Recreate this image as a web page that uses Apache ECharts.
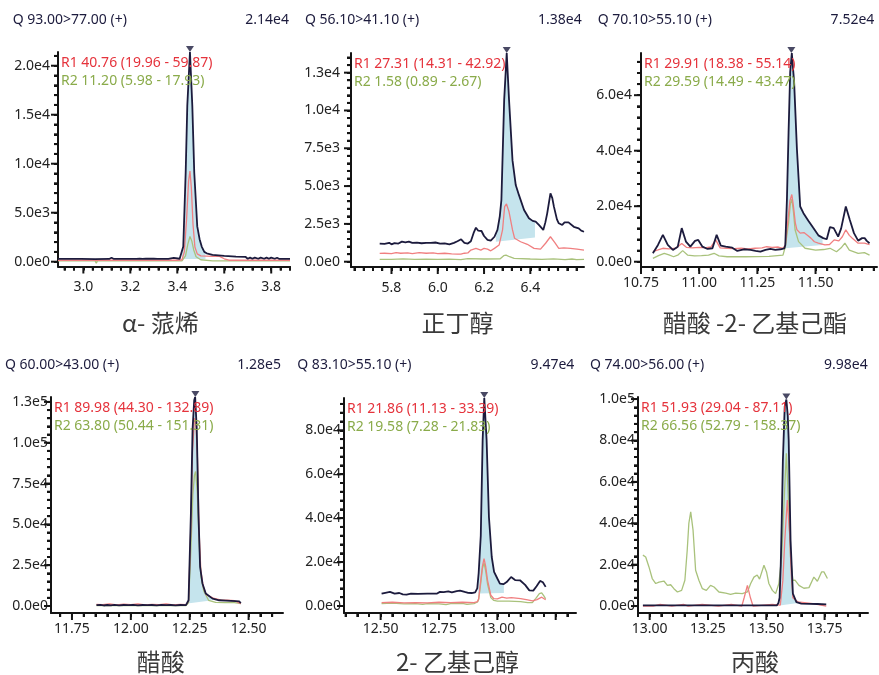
<!DOCTYPE html>
<html><head><meta charset="utf-8">
<script src="https://cdn.jsdelivr.net/npm/echarts@6/dist/echarts.min.js"></script>
<style>html,body{margin:0;padding:0;background:#fff}#c{width:879px;height:675px}</style>
</head><body><div id="c"></div>
<script>
// ---------------- DATA ----------------
const titles = ['Q 93.00>77.00 (+)', 'Q 56.10>41.10 (+)', 'Q 70.10>55.10 (+)', 'Q 60.00>43.00 (+)', 'Q 83.10>55.10 (+)', 'Q 74.00>56.00 (+)'];
const maxVals = [2.14e4, 1.38e4, 7.52e4, 1.28e5, 9.47e4, 9.98e4];
const maxLabels = ['2.14e4', '1.38e4', '7.52e4', '1.28e5', '9.47e4', '9.98e4'];
const yMaxes = [21400, 13800, 75200, 128000, 94700, 101000];
const names = ['α- 蒎烯', '正丁醇', '醋酸 -2- 乙基己酯', '醋酸', '2- 乙基己醇', '丙酸'];
const r1Texts = ['R1 40.76 (19.96 - 59.87)', 'R1 27.31 (14.31 - 42.92)', 'R1 29.91 (18.38 - 55.14)', 'R1 89.98 (44.30 - 132.89)', 'R1 21.86 (11.13 - 33.39)', 'R1 51.93 (29.04 - 87.11)'];
const r2Texts = ['R2 11.20 (5.98 - 17.93)', 'R2 1.58 (0.89 - 2.67)', 'R2 29.59 (14.49 - 43.47)', 'R2 63.80 (50.44 - 151.31)', 'R2 19.58 (7.28 - 21.83)', 'R2 66.56 (52.79 - 158.37)'];
const peakTimes = [3.454, 6.298, 11.396, 12.274, 12.944, 13.586];
const xRanges = [[2.892, 3.88], [5.625, 6.632], [10.75, 11.764], [11.661, 12.646], [12.343, 13.337], [12.95, 13.936]];
const yMins = [-490, -350, -1900, -4300, -3200, -3350];
const xTickLabels = [[3.0, 3.2, 3.4, 3.6, 3.8], [5.8, 6.0, 6.2, 6.4], [10.75, 11.00, 11.25, 11.50], [11.75, 12.00, 12.25, 12.50], [12.50, 12.75, 13.00], [13.00, 13.25, 13.50, 13.75]];
const xMajorTicks = [[3.0, 3.2, 3.4, 3.6, 3.8], [5.8, 6.0, 6.2, 6.4], [10.75, 11.00, 11.25, 11.50], [11.75, 12.00, 12.25, 12.50], [12.50, 12.75, 13.00, 13.25], [13.00, 13.25, 13.50, 13.75]];
const xMinorSteps = [0.04, 0.04, 0.05, 0.05, 0.05, 0.05];
const yTickLabels = [[0, 5000, 10000, 15000, 20000], [0, 2500, 5000, 7500, 10000, 12500], [0, 20000, 40000, 60000], [0, 25000, 50000, 75000, 100000, 125000], [0, 20000, 40000, 60000, 80000], [0, 20000, 40000, 60000, 80000, 100000]];
const yMinorSteps = [1000, 500, 4000, 5000, 4000, 4000];
// integration window: [start time, baseline at start, end time, baseline at end]
const fillWindows = [[3.42, 280, 3.52, 280], [6.251, 1320, 6.42, 1600], [11.37, 4850, 11.53, 6000], [12.24, 1500, 12.347, 3500], [12.918, 5700, 13.028, 5900], [13.557, 300, 13.636, 1500]];

const p1Navy = [[2.892,280],[2.93,280],[2.975,280],[2.98,420],[2.99,280],[3.05,270],[3.11,280],[3.12,400],[3.13,280],[3.155,290],[3.16,410],[3.17,290],[3.225,280],[3.232,400],[3.24,300],[3.252,290],[3.258,410],[3.266,300],[3.275,300],[3.28,420],[3.288,300],[3.30,300],[3.305,410],[3.315,290],[3.362,290],[3.37,400],[3.385,400],[3.392,300],[3.41,300],[3.418,500],[3.4255,1540],[3.4357,9080],[3.4426,15900],[3.454,21400],[3.464,15900],[3.4723,9080],[3.485,3600],[3.495,2300],[3.504,1540],[3.515,1000],[3.525,860],[3.55,700],[3.60,600],[3.65,520],[3.69,500],[3.70,300],[3.71,420],[3.72,300],[3.73,420],[3.745,300],[3.755,420],[3.77,300],[3.78,420],[3.79,300],[3.80,420],[3.815,300],[3.825,400],[3.835,280],[3.88,280]];
const p1Red = [[2.892,150],[3.05,150],[3.055,60],[3.06,150],[3.40,150],[3.42,200],[3.43,1000],[3.44,4500],[3.448,8200],[3.454,9250],[3.46,7500],[3.467,3800],[3.475,1500],[3.485,800],[3.50,600],[3.55,550],[3.58,550],[3.60,300],[3.62,150],[3.78,150],[3.785,60],[3.79,150],[3.88,150]];
const p1Green = [[2.892,80],[3.05,80],[3.055,-150],[3.06,80],[3.42,80],[3.435,600],[3.445,1800],[3.454,2570],[3.462,2100],[3.47,1200],[3.48,500],[3.50,200],[3.55,80],[3.88,80]];

const p2Navy = [[5.749,1200],[5.77,1180],[5.79,1250],[5.80,1150],[5.813,1230],[5.83,1200],[5.845,1330],[5.86,1280],[5.875,1330],[5.89,1240],[5.91,1260],[5.93,1220],[5.95,1250],[5.97,1240],[5.99,1270],[6.01,1200],[6.03,1210],[6.05,1150],[6.07,1250],[6.085,1350],[6.101,1480],[6.115,1250],[6.13,1200],[6.143,1350],[6.155,1900],[6.165,2250],[6.175,2050],[6.182,2100],[6.189,2030],[6.20,1700],[6.215,1450],[6.229,1390],[6.245,1650],[6.258,2100],[6.268,3000],[6.275,4080],[6.287,10700],[6.298,13800],[6.308,10700],[6.323,6700],[6.337,5070],[6.351,4400],[6.373,3420],[6.394,2870],[6.41,2700],[6.423,2650],[6.437,2430],[6.456,2100],[6.465,2600],[6.473,3200],[6.487,4520],[6.495,4200],[6.502,3640],[6.515,2800],[6.523,2540],[6.538,2430],[6.548,2600],[6.556,2710],[6.565,2600],[6.573,2490],[6.588,2310],[6.609,2210],[6.62,2050],[6.632,1980]];
const p2Red = [[5.749,550],[5.77,560],[5.80,540],[5.82,600],[5.84,560],[5.87,580],[5.89,540],[5.92,600],[5.95,560],[5.98,580],[6.00,540],[6.03,560],[6.06,520],[6.085,500],[6.10,500],[6.115,560],[6.13,580],[6.143,770],[6.165,880],[6.186,770],[6.20,880],[6.215,830],[6.229,720],[6.245,880],[6.265,1100],[6.28,2100],[6.289,3640],[6.297,3820],[6.308,3300],[6.323,2100],[6.332,1550],[6.358,1320],[6.387,1150],[6.416,880],[6.444,830],[6.466,1220],[6.487,1650],[6.506,1260],[6.523,880],[6.545,910],[6.573,880],[6.602,830],[6.632,770]];
const p2Green = [[5.749,160],[5.80,150],[5.85,190],[5.90,150],[5.95,170],[6.00,150],[6.05,170],[6.10,140],[6.13,200],[6.20,180],[6.27,190],[6.285,400],[6.295,440],[6.31,330],[6.33,220],[6.40,180],[6.45,160],[6.50,190],[6.55,140],[6.58,180],[6.60,140],[6.632,160]];

const p3Navy = [[10.801,3040],[10.823,6050],[10.844,9670],[10.865,6050],[10.887,4240],[10.908,5430],[10.925,12100],[10.943,7250],[10.962,5430],[10.982,7500],[10.996,7860],[11.014,5430],[11.036,4600],[11.057,4850],[11.075,9670],[11.093,5800],[11.114,5430],[11.142,5070],[11.164,3880],[11.192,4490],[11.221,4240],[11.242,3880],[11.263,3620],[11.285,4240],[11.306,4600],[11.327,4240],[11.349,4490],[11.366,4850],[11.37,6000],[11.377,22400],[11.384,46500],[11.391,68300],[11.398,75200],[11.408,64600],[11.42,40500],[11.434,19900],[11.448,17500],[11.469,14800],[11.49,12200],[11.512,9500],[11.533,8500],[11.548,8100],[11.562,12500],[11.578,12100],[11.597,9060],[11.61,12000],[11.63,19900],[11.647,15100],[11.665,10300],[11.683,7600],[11.7,8500],[11.711,8500],[11.72,7500],[11.732,6670]];
const p3Red = [[10.801,3620],[10.823,4240],[10.844,4850],[10.87,4600],[10.9,4850],[10.925,6600],[10.945,5200],[10.97,5000],[11.0,5200],[11.03,5100],[11.05,5300],[11.071,7860],[11.09,5000],[11.12,4850],[11.15,4700],[11.18,4850],[11.21,4600],[11.24,4850],[11.27,5000],[11.29,5400],[11.313,5200],[11.34,5300],[11.36,4850],[11.37,6000],[11.38,14000],[11.39,22000],[11.398,24200],[11.405,20000],[11.413,14000],[11.42,11500],[11.434,10300],[11.45,10500],[11.465,9500],[11.48,8500],[11.495,7200],[11.512,6670],[11.54,6050],[11.56,6200],[11.58,7860],[11.6,7500],[11.615,9000],[11.63,11500],[11.645,9500],[11.658,8480],[11.683,6670],[11.71,6670],[11.732,6200]];
const p3Green = [[10.801,1200],[10.825,2200],[10.85,3040],[10.87,2500],[10.89,1800],[10.91,2500],[10.929,4000],[10.95,2400],[10.98,2100],[11.01,2200],[11.04,2400],[11.064,3040],[11.085,2100],[11.12,1800],[11.2,1800],[11.3,1900],[11.36,2400],[11.37,5400],[11.384,14000],[11.392,21000],[11.398,22500],[11.405,18000],[11.412,11500],[11.427,7250],[11.455,4850],[11.5,4200],[11.535,4400],[11.562,4850],[11.59,3600],[11.61,5000],[11.626,6670],[11.645,4200],[11.683,3000],[11.71,3300],[11.732,2400]];

const p4Navy = [[11.854,500],[11.87,700],[11.885,300],[11.90,600],[11.915,400],[11.93,700],[11.95,400],[11.97,600],[11.99,500],[12.01,700],[12.03,400],[12.05,600],[12.07,500],[12.09,600],[12.11,400],[12.13,700],[12.15,500],[12.17,600],[12.19,400],[12.21,600],[12.234,500],[12.245,3500],[12.255,56800],[12.262,108000],[12.269,126000],[12.273,128000],[12.28,108000],[12.287,56800],[12.294,24000],[12.304,13800],[12.318,7600],[12.347,4500],[12.375,3500],[12.403,3300],[12.446,3000],[12.46,2800],[12.467,1800]];
const p4Red = [[11.854,1000],[11.88,800],[11.91,1200],[11.94,700],[11.97,1100],[12.0,800],[12.03,1200],[12.06,700],[12.09,1000],[12.12,800],[12.15,1200],[12.18,700],[12.21,1000],[12.234,800],[12.245,3000],[12.255,50000],[12.262,95000],[12.27,115000],[12.276,112000],[12.283,90000],[12.29,45000],[12.297,22000],[12.307,12000],[12.32,7000],[12.35,4800],[12.38,3800],[12.41,3500],[12.44,3200],[12.467,1500]];
const p4Green = [[11.854,300],[11.9,200],[11.95,400],[12.0,200],[12.05,300],[12.1,200],[12.15,400],[12.2,300],[12.234,300],[12.245,2000],[12.255,35000],[12.263,68000],[12.27,80000],[12.275,82400],[12.282,70000],[12.29,38000],[12.298,18000],[12.31,9000],[12.33,3500],[12.36,2200],[12.40,2000],[12.44,2000],[12.467,1500]];

const p5Navy = [[12.504,5600],[12.52,6000],[12.54,6400],[12.56,5600],[12.58,5900],[12.595,5300],[12.611,5200],[12.63,5600],[12.66,5500],[12.70,5600],[12.74,5600],[12.754,6400],[12.77,6300],[12.79,6600],[12.805,6200],[12.826,6800],[12.84,7000],[12.86,6400],[12.875,6000],[12.89,5900],[12.905,6200],[12.914,8000],[12.92,15000],[12.929,32000],[12.937,75500],[12.944,94700],[12.954,75500],[12.964,40500],[12.976,22300],[12.986,15500],[13.0,12500],[13.011,10200],[13.026,9900],[13.04,10900],[13.059,13200],[13.076,11800],[13.097,11700],[13.119,9600],[13.137,7100],[13.154,7000],[13.168,9000],[13.183,11400],[13.195,10800],[13.207,8700]];
const p5Red = [[12.504,1500],[12.55,1700],[12.6,1400],[12.65,1500],[12.70,1400],[12.75,1700],[12.8,1500],[12.85,1700],[12.9,1500],[12.915,2000],[12.92,3300],[12.929,11700],[12.936,18000],[12.943,21600],[12.95,18000],[12.958,11700],[12.972,4900],[12.985,3300],[13.0,3200],[13.02,4000],[13.04,3600],[13.06,3800],[13.1,3300],[13.13,2800],[13.15,2300],[13.17,2900],[13.19,4000],[13.207,2800]];
const p5Green = [[12.504,1100],[12.55,1300],[12.6,1000],[12.65,1100],[12.68,700],[12.70,1100],[12.75,1000],[12.78,600],[12.8,1100],[12.85,1200],[12.87,700],[12.9,1100],[12.915,1800],[12.92,3000],[12.929,10500],[12.936,17000],[12.943,19500],[12.95,16000],[12.958,10000],[12.972,3800],[12.985,2500],[13.0,2200],[13.05,2200],[13.1,2000],[13.13,1500],[13.15,1500],[13.165,3500],[13.18,5600],[13.19,6000],[13.2,4500],[13.207,3300]];

const p6Navy = [[12.971,300],[13.1,300],[13.2,300],[13.3,300],[13.4,300],[13.5,300],[13.545,300],[13.552,1500],[13.557,4000],[13.562,20000],[13.566,40000],[13.571,70000],[13.579,96400],[13.586,99800],[13.592,92000],[13.596,80300],[13.604,31800],[13.614,6000],[13.629,1900],[13.65,1200],[13.72,1000],[13.757,800]];
const p6Red = [[12.971,0],[13.015,0],[13.02,800],[13.045,800],[13.05,0],[13.095,0],[13.1,800],[13.145,800],[13.15,0],[13.165,0],[13.17,800],[13.225,800],[13.23,0],[13.295,0],[13.3,800],[13.35,800],[13.355,0],[13.395,0],[13.405,4000],[13.419,10000],[13.432,4000],[13.443,0],[13.447,800],[13.525,800],[13.53,0],[13.56,500],[13.571,12400],[13.579,31000],[13.59,51200],[13.6,35000],[13.607,15700],[13.614,4000],[13.636,2000],[13.7,1200],[13.757,0]];
const p6Green = [[12.971,24600],[12.983,23700],[12.997,18900],[13.011,13300],[13.026,10900],[13.04,11600],[13.061,12100],[13.076,10000],[13.09,10300],[13.104,8400],[13.119,6800],[13.137,7600],[13.151,12500],[13.161,27000],[13.168,40000],[13.176,45500],[13.186,36700],[13.197,17300],[13.211,12500],[13.226,8400],[13.243,7600],[13.261,10000],[13.276,9200],[13.297,6800],[13.326,6300],[13.347,5700],[13.369,6300],[13.397,6000],[13.419,6800],[13.433,10900],[13.447,14000],[13.461,15000],[13.471,13000],[13.49,19700],[13.501,16500],[13.511,10900],[13.526,7600],[13.54,6000],[13.554,10900],[13.566,24000],[13.578,55000],[13.586,73800],[13.596,48000],[13.604,23700],[13.614,12400],[13.623,12500],[13.64,10000],[13.661,8600],[13.683,8900],[13.704,14000],[13.719,12000],[13.737,16500],[13.747,16500],[13.762,13300]];

const navyTraces = [p1Navy, p2Navy, p3Navy, p4Navy, p5Navy, p6Navy];
const redTraces = [p1Red, p2Red, p3Red, p4Red, p5Red, p6Red];
const greenTraces = [p1Green, p2Green, p3Green, p4Green, p5Green, p6Green];

// ---------------- LAYOUT / STYLE ----------------
const layout = [
  {left:58, top:52, width:232, height:214.5, tX:12.7, tY:20, vX:289, nX:160.3, nY:322.5, xM:14, yM:8, dec:1},
  {left:351, top:53, width:233, height:214, tX:305, tY:20, vX:581.7, nX:457.5, nY:322.5, xM:14, yM:11, dec:1},
  {left:641, top:53, width:236, height:214, tX:597.7, tY:20, vX:874.3, nX:755, nY:322.5, xM:9, yM:9, dec:2},
  {left:51, top:397, width:232, height:216, tX:5, tY:365.5, vX:281, nX:160.8, nY:662, xM:9, yM:3, dec:2},
  {left:344, top:398, width:232, height:215, tX:297.3, tY:365.5, vX:574.3, nX:457.5, nY:662, xM:9, yM:3, dec:2},
  {left:638, top:397, width:230, height:216, tX:590, tY:365.5, vX:867.7, nX:755, nY:662, xM:9, yM:3, dec:2}
];
const NAVY = '#1c1b3d', RED_LINE = '#f07f80', GREEN_LINE = '#a9c27c', FILL = '#c5e4ed';
const RED_TXT = '#e5333c', GREEN_TXT = '#8aab4a', AXIS = '#141414', LABEL = '#222';
const FONT = '"Noto Sans", "Open Sans", sans-serif';
const MINOR_LEN = 4, MAJOR_LEN = 7;

function stepTicks(min, max, step) {
  const out = [];
  for (let k = Math.ceil(min / step - 1e-9); k * step <= max + 1e-9; k++) out.push(+(k * step).toFixed(6));
  return out;
}
function navyAt(trace, t) {
  for (let i = 1; i < trace.length; i++) {
    if (trace[i][0] >= t) {
      const a = trace[i - 1], b = trace[i];
      return a[1] + (b[1] - a[1]) * (t - a[0]) / (b[0] - a[0]);
    }
  }
  return trace[trace.length - 1][1];
}
function isIn(arr, v) { return arr.some(a => Math.abs(a - v) < 1e-6); }

const grid = [], xAxis = [], yAxis = [], series = [], graphic = [];
layout.forEach((L, i) => {
  grid.push({left: L.left, top: L.top, width: L.width, height: L.height, containLabel: false});
  const [xmin, xmax] = xRanges[i];
  const ymin = yMins[i], ymax = yMaxes[i];
  const xMinorVals = stepTicks(xmin, xmax, xMinorSteps[i]);
  const yMinorVals = stepTicks(0, ymax, yMinorSteps[i]);
  xAxis.push({gridIndex: i, type: 'value', position: 'bottom', min: xmin, max: xmax,
    axisLine: {show: true, onZero: false, lineStyle: {color: AXIS, width: 2}},
    axisTick: {show: true, length: MINOR_LEN, lineStyle: {color: AXIS, width: 2}, customValues: xMinorVals},
    axisLabel: {show: true, customValues: xTickLabels[i], margin: L.xM, color: LABEL, fontSize: 14, fontFamily: FONT,
      formatter: v => (+v).toFixed(L.dec)},
    splitLine: {show: false}});
  yAxis.push({gridIndex: i, type: 'value', position: 'left', min: ymin, max: ymax,
    axisLine: {show: true, onZero: false, lineStyle: {color: AXIS, width: 2}},
    axisTick: {show: true, length: MINOR_LEN, lineStyle: {color: AXIS, width: 2}, customValues: yMinorVals},
    axisLabel: {show: true, customValues: yTickLabels[i], margin: L.yM, color: LABEL, fontSize: 14, fontFamily: FONT,
      formatter: v => (+v).toExponential(1).replace('+', '')},
    splitLine: {show: false}});

  const navy = navyTraces[i];
  const fw = fillWindows[i];
  series.push({type: 'custom', xAxisIndex: i, yAxisIndex: i, silent: true, z: 1, clip: false,
    data: [[fw[0], fw[1]]],
    renderItem: (params, api) => {
      const pts = [api.coord([fw[0], fw[1]]), api.coord([fw[0], navyAt(navy, fw[0])])];
      navy.forEach(p => { if (p[0] > fw[0] && p[0] < fw[2]) pts.push(api.coord(p)); });
      pts.push(api.coord([fw[2], navyAt(navy, fw[2])]));
      pts.push(api.coord([fw[2], fw[3]]));
      return {type: 'polygon', shape: {points: pts}, style: {fill: FILL}};
    }});
  series.push({type: 'line', xAxisIndex: i, yAxisIndex: i, data: greenTraces[i], symbol: 'none', silent: true, z: 2,
    lineStyle: {color: GREEN_LINE, width: 1.3}});
  series.push({type: 'line', xAxisIndex: i, yAxisIndex: i, data: redTraces[i], symbol: 'none', silent: true, z: 3,
    lineStyle: {color: RED_LINE, width: 1.3}});
  series.push({type: 'line', xAxisIndex: i, yAxisIndex: i, data: navy, symbol: 'none', silent: true, z: 4,
    lineStyle: {color: NAVY, width: 1.8}});
  series.push({type: 'scatter', xAxisIndex: i, yAxisIndex: i, data: [[peakTimes[i], maxVals[i]]], silent: true, z: 6, clip: false,
    symbol: 'triangle', symbolRotate: 180, symbolSize: [8, 6], symbolOffset: [0, -3], itemStyle: {color: NAVY}});

  // tick marks drawn through the axis scales (minor + longer major)
  const xTickData = xMinorVals.map(v => [v, ymin, isIn(xMajorTicks[i], v) ? 1 : 0]);
  series.push({type: 'custom', xAxisIndex: i, yAxisIndex: i, silent: true, z: 8, clip: false, progressive: 0, data: xTickData,
    dimensions: ['x', 'y', 'major'], encode: {x: 0, y: 1},
    renderItem: (params, api) => {
      const p = api.coord([api.value(0), api.value(1)]);
      const len = api.value(2) ? MAJOR_LEN : MINOR_LEN;
      return {type: 'line', shape: {x1: p[0], y1: p[1], x2: p[0], y2: p[1] + len}, style: {stroke: AXIS, lineWidth: 2}};
    }});
  const yTickData = yMinorVals.map(v => [xmin, v, isIn(yTickLabels[i], v) ? 1 : 0]);
  series.push({type: 'custom', xAxisIndex: i, yAxisIndex: i, silent: true, z: 8, clip: false, progressive: 0, data: yTickData,
    dimensions: ['x', 'y', 'major'], encode: {x: 0, y: 1},
    renderItem: (params, api) => {
      const p = api.coord([api.value(0), api.value(1)]);
      const len = api.value(2) ? MAJOR_LEN : MINOR_LEN;
      return {type: 'line', shape: {x1: p[0], y1: p[1], x2: p[0] - len, y2: p[1]}, style: {stroke: AXIS, lineWidth: 2}};
    }});

  const txt = (x, y, text, fill, size, align, family) => ({type: 'text', x: x, y: y, silent: true, z: 50,
    style: {text: text, fill: fill, font: size + 'px ' + family, textAlign: align, textVerticalAlign: 'middle', align: align, verticalAlign: 'middle'}});
  graphic.push(txt(L.tX, L.tY, titles[i], NAVY, 14, 'left', FONT));
  graphic.push(txt(L.vX, L.tY, maxLabels[i], NAVY, 14, 'right', FONT));
  graphic.push(txt(L.left + 3, L.top + 11.5, r1Texts[i], RED_TXT, 14, 'left', FONT));
  graphic.push(txt(L.left + 3, L.top + 29, r2Texts[i], GREEN_TXT, 14, 'left', FONT));
  graphic.push(txt(L.nX, L.nY, names[i], '#3a3a3a', 24, 'center', '"Noto Sans CJK SC", sans-serif'));
});

const chart = echarts.init(document.getElementById('c'), null, {renderer: 'canvas'});
chart.setOption({animation: false, backgroundColor: '#fff', grid, xAxis, yAxis, series, graphic});
</script>
</body></html>
